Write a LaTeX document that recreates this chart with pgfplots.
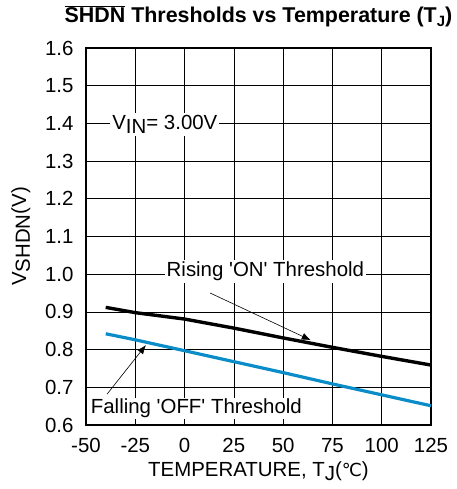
\documentclass[border=0pt]{standalone}
\usepackage{pgfplots}
\pgfplotsset{compat=1.18}
\usetikzlibrary{arrows.meta}
\usepackage{fontspec}
\setmainfont{Liberation Sans}
\newfontfamily\dejavu{DejaVu Sans}
\definecolor{offblue}{RGB}{10,140,200}
\newcommand{\fs}{\fontsize{20.5}{24}\selectfont}
\begin{document}
\begin{tikzpicture}[font=\fs]
\begin{axis}[
  at={(0,0)}, anchor=south west,
  scale only axis, width=345bp, height=377bp,
  xmin=-50, xmax=125, ymin=0.6, ymax=1.6,
  xtick={-50,-25,...,125},
  ytick={0.6,0.7,0.8,0.9,1.0,1.1,1.2,1.3,1.4,1.5,1.6},
  grid=major,
  major grid style={black, line width=0.7bp},
  axis line style={black, line width=2bp},
  tick style={black, line width=0.7bp},
  tick align=inside,
  /pgf/number format/assume math mode=true,
  yticklabel style={/pgf/number format/fixed, /pgf/number format/fixed zerofill, /pgf/number format/precision=1, xshift=-9bp},
  xticklabel style={/pgf/number format/fixed, yshift=-10bp},
  ticklabel style={font=\fs},
  xlabel={TEMPERATURE, T\raisebox{-0.35ex}{J}({\dejavu\fontsize{18}{20}\selectfont ℃})},
  ylabel={V\raisebox{-0.35ex}{SHDN}(V)},
  label style={font=\fs},
  xlabel style={yshift=-2bp},
  ylabel style={yshift=8bp},
  clip=false,
]
\addplot[black, line width=3.4bp] coordinates {
(-40,0.912) (-25,0.898) (0,0.881) (25,0.857) (50,0.831) (75,0.806) (100,0.782) (125,0.759)};
\addplot[offblue, line width=3.2bp] coordinates {
(-40,0.842) (-25,0.826) (0,0.797) (25,0.768) (50,0.739) (75,0.709) (100,0.680) (125,0.651)};
\node[fill=white, inner sep=2bp] at (axis cs:-10,1.397) {V\raisebox{-0.4ex}{IN}= 3.00V};
\node[fill=white, inner sep=2bp] at (axis cs:41,1.008) {Rising \textquotesingle ON\textquotesingle\ Threshold};
\node[fill=white, inner sep=1bp] at (axis cs:6,0.645) {Falling \textquotesingle OFF\textquotesingle\ Threshold};
\draw[-{Latex[length=9bp,width=7bp]}, line width=0.6bp] (axis cs:13,0.950) -- (axis cs:64,0.825);
\draw[-{Latex[length=9bp,width=7bp]}, line width=0.6bp] (axis cs:-39.3,0.682) -- (axis cs:-19.6,0.812);
\node[anchor=base, font=\bfseries\fontsize{21.5}{24}\selectfont] at (rel axis cs:0.5,1) [yshift=25bp]
  {$\overline{\hbox{\bfseries\fontsize{21.5}{24}\selectfont SHDN}}$ Thresholds vs Temperature (T\raisebox{-0.35ex}{\fontsize{15}{16}\selectfont J})};
\end{axis}
\path[use as bounding box] (-86bp,-64bp) rectangle (371bp,425bp);
\end{tikzpicture}
\end{document}
